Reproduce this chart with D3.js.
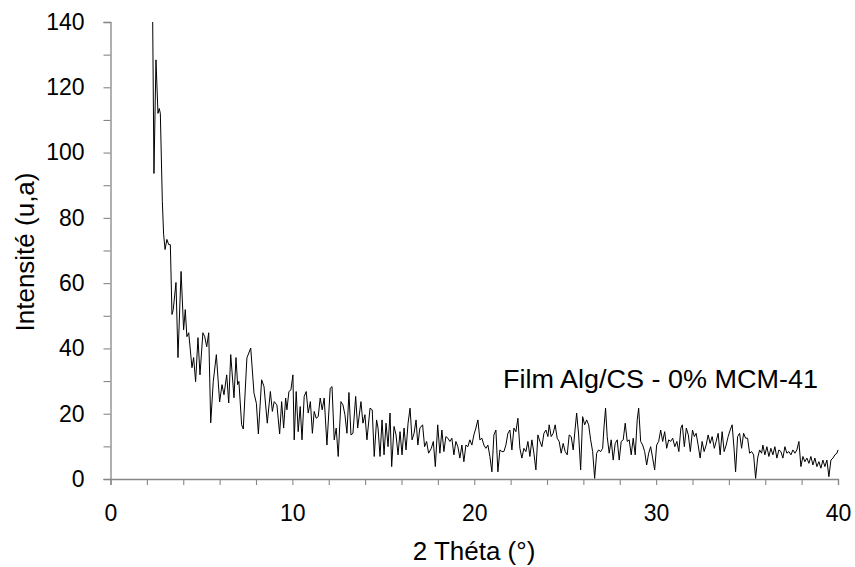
<!DOCTYPE html>
<html>
<head>
<meta charset="utf-8">
<script src="https://cdn.jsdelivr.net/npm/d3@7"></script>
<style>
  html, body { margin: 0; padding: 0; background: #fff; }
  svg { display: block; }
  text { font-family: "Liberation Sans", Arial, sans-serif; fill: #000; }
</style>
</head>
<body>
<svg id="chart" width="855" height="567"></svg>
<script>
// 2θ positions (degrees)
const theta = [
  2.32,2.39,2.50,2.61,2.68,2.74,2.85,2.92,3.00,3.10,3.20,3.29,3.38,3.45,3.60,3.71,3.88,4.02,4.11,4.20,
  4.30,4.48,4.57,4.68,4.81,4.92,5.08,5.18,5.29,5.40,5.51,5.65,5.82,6.00,6.13,6.24,6.39,6.50,6.61,6.79,
  6.90,6.99,7.06,7.21,7.30,7.50,7.71,7.89,8.02,8.13,8.31,8.44,8.62,8.79,8.90,9.00,9.15,9.30,9.41,9.52,
  9.63,9.70,9.81,9.92,10.03,10.10,10.21,10.32,10.43,10.53,10.65,10.76,10.87,10.99,11.10,11.20,11.31,11.42,11.53,11.64,
  11.75,11.90,12.08,12.18,12.30,12.41,12.52,12.67,12.78,12.89,13.00,13.11,13.22,13.33,13.48,13.59,13.77,13.88,13.99,14.10,
  14.27,14.39,14.50,14.63,14.71,14.82,14.93,15.04,15.15,15.26,15.37,15.46,15.59,15.70,15.81,15.92,16.03,16.14,16.25,16.36,
  16.47,16.58,16.69,16.80,16.90,17.01,17.16,17.27,17.38,17.49,17.64,17.75,17.86,17.99,18.11,18.22,18.33,18.44,18.55,18.66,
  18.77,18.88,18.99,19.10,19.21,19.32,19.43,19.54,19.65,19.76,19.87,19.98,20.09,20.20,20.31,20.42,20.53,20.64,20.75,20.86,
  20.97,21.08,21.19,21.30,21.41,21.52,21.63,21.74,21.85,21.96,22.07,22.18,22.29,22.40,22.51,22.62,22.73,22.84,22.95,23.06,
  23.17,23.28,23.39,23.50,23.61,23.72,23.83,23.94,24.05,24.12,24.23,24.34,24.45,24.56,24.67,24.78,24.89,25.00,25.11,25.22,
  25.33,25.44,25.55,25.63,25.74,25.85,25.96,26.07,26.18,26.29,26.40,26.51,26.62,26.73,26.84,26.95,27.06,27.13,27.22,27.31,
  27.42,27.53,27.64,27.75,27.86,27.97,28.08,28.19,28.30,28.41,28.52,28.63,28.74,28.85,28.96,29.04,29.15,29.26,29.37,29.48,
  29.59,29.70,29.81,29.92,30.03,30.14,30.25,30.36,30.47,30.58,30.69,30.80,30.91,31.03,31.14,31.25,31.36,31.44,31.55,31.66,
  31.77,31.88,32.00,32.10,32.20,32.31,32.42,32.53,32.64,32.75,32.86,32.97,33.08,33.20,33.30,33.41,33.52,33.63,33.74,33.85,
  33.96,34.07,34.18,34.29,34.37,34.48,34.59,34.70,34.81,34.92,35.03,35.14,35.25,35.36,35.47,35.58,35.69,35.80,35.87,35.98,
  36.09,36.20,36.31,36.42,36.53,36.64,36.75,36.86,36.97,37.08,37.19,37.30,37.41,37.52,37.63,37.74,37.85,37.96,38.07,38.18,
  38.29,38.40,38.51,38.62,38.73,38.84,38.95,39.06,39.17,39.28,39.39,39.50,39.61,39.72,39.83,39.94,40.00
];

// Intensity (u,a)
const intensity = [
  140,93.6,128.4,112,113.5,112,85,75,70.3,73.4,71.8,71.8,50.4,51.9,60.2,37.2,63.6,45.7,51.9,43.6,
  44.8,34.1,37.2,29.8,43.3,31.9,44.8,43.6,40.5,44.8,17.2,29.8,38.1,23.6,28.9,25.8,31.9,23.3,38.1,24.9,
  37.2,28.9,29.9,16.6,15.3,37.1,40.1,26.3,23.2,13.8,30.4,28.3,17.1,26.8,20.7,23.7,22.7,13.8,23.7,15.6,
  24.8,21.2,26.8,27.3,31.9,12.0,26.8,14.5,22.2,12.0,25.3,26.8,20.2,23.7,14.0,20.7,18.6,19.1,24.8,21.2,
  24.8,10.4,27.8,28.3,12.0,15.6,6.9,23.7,22.7,19.7,14.0,26.5,13.5,14.0,25.3,15.6,23.7,17.1,19.7,12.0,
  21.7,21.2,6.9,18.1,15.6,6.9,18.1,7.4,17.1,9.9,20.2,3.8,16.1,13.5,7.4,14.5,7.4,15.6,8.9,17.1,
  21.7,12.0,14.0,18.1,10.4,15.6,16.6,9.9,11.5,7.9,9.4,11.5,3.8,16.6,7.9,15.0,8.4,13.0,12.5,11.5,
  12.5,7.4,11.5,9.9,6.4,10.4,5.3,10.4,9.9,12.0,10.4,13.5,15.6,18.1,12.0,12.5,10.4,9.4,10.4,6.9,
  2.2,13.5,15.0,2.2,8.9,8.4,8.4,10.4,14.0,15.0,8.9,15.6,14.5,18.6,9.4,6.4,9.4,8.4,11.5,6.9,
  12.0,7.9,2.8,13.5,11.5,9.9,14.0,15.0,13.0,16.6,13.0,14.0,16.6,12.5,11.5,7.9,10.9,8.4,7.4,13.5,
  13.0,8.9,15.6,20.2,13.5,2.8,19.1,16.6,18.1,16.6,12.0,8.4,0.2,7.9,8.9,8.4,9.4,15.6,21.7,13.0,
  7.9,12.0,5.8,10.9,12.0,5.8,11.5,12.0,17.1,11.5,12.0,7.4,12.5,7.4,18.1,21.7,11.5,10.4,8.4,4.3,
  7.9,9.9,6.4,2.8,10.4,11.5,15.0,11.5,14.5,9.4,12.0,11.5,12.5,9.9,11.5,8.4,15.6,16.6,9.9,15.6,
  13.5,8.4,15.0,13.0,14.0,10.4,6.4,11.5,8.4,10.4,13.5,10.9,13.0,9.4,11.5,14.0,7.4,14.5,8.4,10.4,
  13.0,15.0,16.6,8.9,2.2,13.0,14.0,9.4,14.0,12.5,12.5,7.9,8.4,7.4,0.2,6.4,8.9,7.9,10.4,7.4,
  9.9,6.9,9.4,7.4,9.9,6.4,8.9,8.4,6.4,9.9,7.9,8.4,7.4,8.9,7.9,8.9,11.5,3.8,6.9,5.3,
  6.4,4.8,6.9,4.3,6.4,3.8,5.3,3.3,5.8,3.8,5.8,0.7,5.8,6.4,7.4,7.9,8.9
];

const xTickValues = d3.range(0, 41, 2);      // minor ticks every 2
const xLabelValues = [0, 10, 20, 30, 40];
const yTickValues = d3.range(0, 141, 10);    // ticks every 10
const yLabelValues = [0, 20, 40, 60, 80, 100, 120, 140];

const xTitle = "2 Théta (°)";
const yTitle = "Intensité (u,a)";
const annotation = "Film Alg/CS - 0% MCM-41";

const svg = d3.select("#chart");
const x = d3.scaleLinear().domain([0, 40]).range([110.5, 838]);
const y = d3.scaleLinear().domain([0, 140]).range([479, 22]);

const axisColor = "#868686";

// Y axis
const yAxis = d3.axisLeft(y)
  .tickValues(yTickValues)
  .tickSize(7)
  .tickPadding(19)
  .tickFormat(d => yLabelValues.includes(d) ? d : "");
const gy = svg.append("g").attr("transform", `translate(${x(0)},0)`).call(yAxis);
gy.select(".domain").attr("stroke", axisColor).attr("stroke-width", 1.3);
gy.selectAll(".tick line").attr("stroke", axisColor).attr("stroke-width", 1.1);
gy.selectAll(".tick text").attr("font-size", 23).attr("font-family", "Liberation Sans, Arial, sans-serif");

// X axis
const xAxis = d3.axisBottom(x)
  .tickValues(xTickValues)
  .tickSize(6)
  .tickPadding(20)
  .tickFormat(d => xLabelValues.includes(d) ? d : "");
const gx = svg.append("g").attr("transform", `translate(0,${y(0)})`).call(xAxis);
gx.select(".domain").attr("stroke", axisColor).attr("stroke-width", 1.3);
gx.selectAll(".tick line").attr("stroke", axisColor).attr("stroke-width", 1.1);
gx.selectAll(".tick text").attr("font-size", 23).attr("font-family", "Liberation Sans, Arial, sans-serif");

// Data line
const data = theta.map((t, i) => [t, intensity[i]]);
svg.append("path")
  .datum(data)
  .attr("fill", "none")
  .attr("stroke", "#000")
  .attr("stroke-width", 1)
  .attr("stroke-linejoin", "round")
  .attr("d", d3.line().x(d => x(d[0])).y(d => y(d[1])));

// Axis titles
svg.append("text")
  .attr("x", 474).attr("y", 560)
  .attr("text-anchor", "middle")
  .attr("font-size", 26)
  .text(xTitle);

svg.append("text")
  .attr("transform", "translate(34,252) rotate(-90)")
  .attr("text-anchor", "middle")
  .attr("font-size", 26)
  .text(yTitle);

// Annotation
svg.append("text")
  .attr("x", 503).attr("y", 388)
  .attr("font-size", 26)
  .attr("textLength", 315)
  .attr("lengthAdjust", "spacingAndGlyphs")
  .text(annotation);
</script>
</body>
</html>
